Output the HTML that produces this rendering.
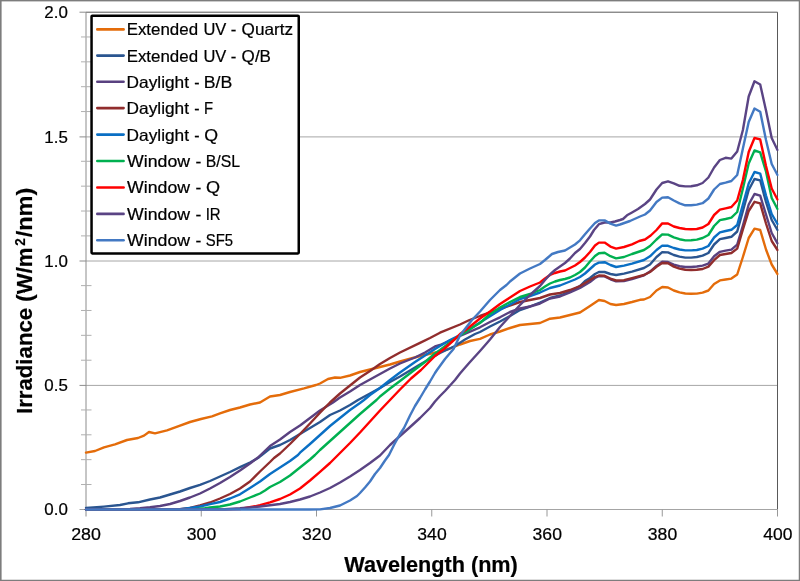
<!DOCTYPE html>
<html lang="en">
<head>
<meta charset="utf-8">
<title>Irradiance vs Wavelength</title>
<style>
html,body{margin:0;padding:0;background:#fff;}
body{width:800px;height:581px;overflow:hidden;}
svg{display:block;}
text{font-family:"Liberation Sans",Arial,sans-serif;fill:#000;stroke:#000;stroke-width:0.22;white-space:pre;}
.tick{font-size:16.6px;}
.leg{font-size:16.5px;}
.title{font-size:21.8px;font-weight:bold;stroke-width:0.2;}
.curve{fill:none;stroke-width:2.4;stroke-linejoin:round;stroke-linecap:round;}
</style>
</head>
<body>
<svg width="800" height="581" viewBox="0 0 800 581" role="img" aria-label="Irradiance versus wavelength for nine optical filter combinations">
<rect x="0" y="0" width="800" height="581" fill="#ffffff"/>
<g fill="#7d7d7d"><rect x="0" y="0" width="1.6" height="581"/><rect x="0" y="0" width="800" height="1.4"/><rect x="798.75" y="0" width="1.25" height="581"/><rect x="0" y="579.75" width="800" height="1.25"/></g>
<g stroke="#a6a6a6" stroke-width="1" fill="none">
<line x1="86.0" y1="385.4" x2="777.5" y2="385.4"/>
<line x1="86.0" y1="261.0" x2="777.5" y2="261.0"/>
<line x1="86.0" y1="136.9" x2="777.5" y2="136.9"/>
</g>
<path d="M86.0 12.2 H777.5 V509.5" fill="none" stroke="#595959" stroke-width="1"/>
<g stroke="#8c8c8c" stroke-width="1" fill="none">
<line x1="86.0" y1="12.2" x2="86.0" y2="516.5"/>
<line x1="79.5" y1="509.5" x2="777.5" y2="509.5" stroke="#a4a4a4"/>
<line x1="79.5" y1="12.2" x2="86.0" y2="12.2"/>
<line x1="79.5" y1="385.4" x2="86.0" y2="385.4"/>
<line x1="79.5" y1="261.0" x2="86.0" y2="261.0"/>
<line x1="79.5" y1="136.9" x2="86.0" y2="136.9"/>
<line x1="201.25" y1="509.5" x2="201.25" y2="516.5" stroke="#989898"/>
<line x1="316.50" y1="509.5" x2="316.50" y2="516.5" stroke="#989898"/>
<line x1="431.75" y1="509.5" x2="431.75" y2="516.5" stroke="#989898"/>
<line x1="547.00" y1="509.5" x2="547.00" y2="516.5" stroke="#989898"/>
<line x1="662.25" y1="509.5" x2="662.25" y2="516.5" stroke="#989898"/>
<line x1="777.50" y1="509.5" x2="777.50" y2="516.5" stroke="#989898"/>
</g>
<g stroke="#b0b0b0" stroke-width="1" fill="none">
<line x1="81.0" y1="484.53" x2="91.5" y2="484.53"/>
<line x1="81.0" y1="459.67" x2="91.5" y2="459.67"/>
<line x1="81.0" y1="434.80" x2="91.5" y2="434.80"/>
<line x1="81.0" y1="409.94" x2="91.5" y2="409.94"/>
<line x1="81.0" y1="360.21" x2="91.5" y2="360.21"/>
<line x1="81.0" y1="335.34" x2="91.5" y2="335.34"/>
<line x1="81.0" y1="310.48" x2="91.5" y2="310.48"/>
<line x1="81.0" y1="285.62" x2="91.5" y2="285.62"/>
<line x1="81.0" y1="235.88" x2="91.5" y2="235.88"/>
<line x1="81.0" y1="211.02" x2="91.5" y2="211.02"/>
<line x1="81.0" y1="186.16" x2="91.5" y2="186.16"/>
<line x1="81.0" y1="161.29" x2="91.5" y2="161.29"/>
<line x1="81.0" y1="111.56" x2="91.5" y2="111.56"/>
<line x1="81.0" y1="86.70" x2="91.5" y2="86.70"/>
<line x1="81.0" y1="61.83" x2="91.5" y2="61.83"/>
<line x1="81.0" y1="36.96" x2="91.5" y2="36.96"/>
</g>
<clipPath id="plotclip"><rect x="84.0" y="0" width="694.7" height="520"/></clipPath>
<g clip-path="url(#plotclip)">
<polyline class="curve" stroke="#E46C0A" points="86.0,452.6 95.0,451.0 104.0,447.3 115.0,444.4 127.0,440.0 138.0,438.0 144.0,435.6 149.0,432.0 155.0,433.4 167.0,430.4 178.0,426.4 190.0,422.0 201.0,419.0 212.0,416.4 220.0,413.4 230.0,410.0 240.0,407.5 250.0,404.5 260.0,402.5 270.0,396.5 280.0,395.0 290.0,392.0 304.0,388.4 316.0,385.0 320.0,383.5 328.0,379.0 335.0,377.5 340.0,377.8 350.0,375.5 360.0,372.0 370.0,369.5 380.0,367.0 390.0,364.5 400.0,361.5 420.0,356.0 440.0,351.5 450.0,348.5 460.0,344.5 470.0,341.0 480.0,338.8 490.0,334.5 500.0,331.5 510.0,328.0 520.0,325.0 530.0,324.0 540.0,323.0 550.0,318.7 560.0,317.5 570.0,315.0 580.0,312.5 590.0,306.0 598.9,300.0 604.6,301.0 610.4,304.0 616.1,305.0 624.0,304.0 632.0,302.0 640.0,299.8 644.0,299.5 650.0,297.0 656.5,290.5 662.2,287.0 668.0,287.5 673.8,290.5 679.5,292.4 685.3,293.5 691.1,293.8 696.8,293.6 702.6,292.6 708.4,290.5 714.1,284.0 719.9,280.4 725.6,279.5 731.4,278.6 737.2,274.5 742.9,257.0 748.7,238.0 754.5,228.7 760.2,230.0 766.0,249.5 771.7,264.5 777.5,274.0"/>
<polyline class="curve" stroke="#2A5590" points="86.0,508.0 104.0,506.6 120.0,505.0 128.0,503.3 138.0,502.3 150.0,499.5 160.0,497.5 170.0,494.5 180.0,491.5 190.0,488.0 200.0,484.8 210.0,481.0 220.0,476.5 230.0,472.0 240.0,467.2 250.0,462.5 258.0,458.0 270.0,448.5 280.0,445.0 290.0,440.0 300.0,434.0 310.0,428.0 320.0,422.0 330.0,415.0 340.0,410.5 350.0,405.0 358.0,400.0 370.0,393.5 380.0,388.0 390.0,382.0 400.0,376.5 420.0,364.5 440.0,353.0 455.0,346.0 465.0,339.5 475.0,334.0 480.0,332.0 490.0,326.5 500.0,321.5 510.0,316.0 520.0,310.0 530.0,306.5 540.0,302.5 550.0,298.0 560.0,295.5 570.0,291.5 580.0,286.0 585.0,281.0 590.0,278.0 595.0,274.0 598.9,272.0 604.6,272.0 610.4,274.0 616.1,275.0 624.0,273.6 632.0,271.6 644.0,268.0 650.0,264.5 656.5,257.0 662.2,252.2 668.0,252.4 673.8,255.0 679.5,256.6 685.3,257.6 691.1,257.6 696.8,257.0 702.6,255.6 708.4,253.0 714.1,244.5 719.9,239.2 725.6,238.0 731.4,236.8 737.2,231.5 742.9,211.0 748.7,190.0 754.5,179.0 760.2,180.3 766.0,202.0 771.7,220.0 777.5,230.0"/>
<polyline class="curve" stroke="#594180" points="86.0,509.3 130.0,509.0 140.0,508.3 150.0,507.3 160.0,506.0 170.0,504.0 180.0,501.0 190.0,497.5 200.0,493.5 210.0,488.5 220.0,483.0 230.0,477.0 240.0,470.5 250.0,463.5 258.0,457.5 270.0,446.0 280.0,439.5 290.0,432.0 300.0,425.5 310.0,418.0 320.0,410.5 333.0,402.5 340.0,397.5 350.0,391.5 360.0,385.0 370.0,379.5 380.0,374.0 390.0,368.5 400.0,363.5 415.0,357.5 425.0,352.5 435.0,346.5 440.0,345.0 460.0,336.0 480.0,327.3 490.0,322.0 500.0,317.3 510.0,312.0 520.0,308.5 530.0,306.5 540.0,303.5 550.0,298.5 560.0,296.5 570.0,292.5 580.0,288.0 590.0,282.0 595.0,278.0 598.9,276.2 604.6,276.4 610.4,279.3 616.1,281.3 624.0,281.0 632.0,279.2 644.0,275.3 650.0,271.6 656.5,266.0 662.2,261.8 668.0,262.0 673.8,264.6 679.5,266.2 685.3,267.0 691.1,267.0 696.8,266.5 702.6,265.6 708.4,263.6 714.1,256.2 719.9,251.8 725.6,250.6 731.4,249.6 737.2,244.6 742.9,225.5 748.7,204.5 754.5,194.0 760.2,195.6 766.0,214.5 771.7,233.0 777.5,243.3"/>
<polyline class="curve" stroke="#912D2D" points="86.0,509.4 180.0,509.2 190.0,508.0 200.0,505.5 210.0,502.5 220.0,498.5 230.0,494.0 240.0,488.5 250.0,481.5 260.0,471.5 270.0,462.0 274.0,458.0 280.0,453.5 290.0,444.0 300.0,434.0 310.0,423.5 320.0,412.7 330.0,402.5 340.0,393.5 350.0,385.5 360.0,377.5 370.0,371.0 380.0,364.0 390.0,358.0 400.0,352.5 420.0,342.8 430.0,338.0 440.0,332.7 460.0,324.5 469.5,320.0 480.0,316.0 500.0,309.0 520.0,302.0 530.0,300.0 540.0,298.0 550.0,294.5 560.0,293.0 570.0,290.0 580.0,286.0 585.0,283.0 590.0,280.0 595.0,277.0 598.9,275.5 604.6,275.8 610.4,278.6 616.1,280.5 624.0,280.2 632.0,278.2 644.0,275.0 650.0,272.0 656.5,266.8 662.2,263.0 668.0,263.3 673.8,266.6 679.5,268.6 685.3,269.8 691.1,270.0 696.8,269.8 702.6,269.0 708.4,266.6 714.1,260.2 719.9,255.0 725.6,254.0 731.4,253.0 737.2,248.6 742.9,229.5 748.7,211.0 754.5,201.8 760.2,203.4 766.0,223.5 771.7,241.0 777.5,250.0"/>
<polyline class="curve" stroke="#0A6FC4" points="86.0,509.4 180.0,509.3 190.0,508.0 200.0,506.5 210.0,504.2 220.0,502.0 230.0,498.5 240.0,494.3 250.0,488.0 260.0,481.5 270.0,474.0 280.0,467.5 290.0,461.0 298.0,455.0 300.0,452.7 310.0,444.0 320.0,435.0 330.0,426.0 340.0,418.0 350.0,410.0 360.0,403.0 364.0,400.0 370.0,395.0 380.0,388.0 390.0,380.0 400.0,372.5 405.0,369.0 415.0,362.0 425.0,355.5 435.0,349.0 440.0,346.0 450.0,340.0 460.0,335.0 480.0,322.5 500.0,310.0 520.0,299.0 530.0,296.0 540.0,292.5 550.0,288.0 560.0,285.5 565.0,283.5 570.0,281.5 575.0,279.5 580.0,277.0 585.0,273.5 590.0,269.0 595.0,264.5 598.9,262.6 604.6,262.2 610.4,265.0 616.1,267.0 624.0,265.6 632.0,263.6 644.0,260.0 650.0,256.3 656.5,250.0 662.2,245.6 668.0,245.8 673.8,248.0 679.5,249.5 685.3,250.4 691.1,250.4 696.8,250.0 702.6,248.6 708.4,246.0 714.1,237.5 719.9,232.3 725.6,231.0 731.4,229.8 737.2,225.0 742.9,204.5 748.7,183.5 754.5,172.0 760.2,173.6 766.0,195.5 771.7,214.0 777.5,224.0"/>
<polyline class="curve" stroke="#00B050" points="86.0,509.4 195.0,509.3 205.0,508.3 210.0,507.5 220.0,506.5 230.0,504.5 240.0,501.5 250.0,497.5 260.0,493.5 265.0,490.5 270.0,487.0 280.0,482.0 290.0,475.5 300.0,467.5 310.0,459.5 315.0,455.0 320.0,450.0 330.0,441.0 340.0,432.0 350.0,423.0 360.0,414.0 370.0,405.5 376.5,400.0 380.0,396.5 390.0,388.5 400.0,381.0 415.0,369.5 425.0,362.0 435.0,353.5 440.0,350.0 450.0,342.5 460.0,335.5 465.0,332.5 475.0,326.0 480.0,323.0 490.0,314.0 500.0,307.5 510.0,302.0 520.0,297.0 530.0,294.0 540.0,290.0 545.0,286.5 550.0,283.5 555.0,281.5 560.0,280.0 565.0,279.0 570.0,277.5 575.0,275.0 580.0,272.0 585.0,267.5 590.0,261.5 595.0,256.0 598.9,253.2 604.6,252.8 610.4,256.2 616.1,258.4 624.0,257.0 632.0,254.0 644.0,250.0 650.0,246.0 656.5,239.5 662.2,234.4 668.0,234.6 673.8,237.4 679.5,239.2 685.3,240.4 691.1,240.2 696.8,239.6 702.6,238.0 708.4,235.0 714.1,226.0 719.9,220.2 725.6,219.0 731.4,217.6 737.2,212.0 742.9,188.5 748.7,163.5 754.5,150.5 760.2,152.4 766.0,171.5 771.7,198.0 777.5,209.0"/>
<polyline class="curve" stroke="#FF0000" points="86.0,509.4 230.0,509.3 240.0,509.0 255.0,506.3 260.0,505.2 270.0,502.3 280.0,499.0 290.0,494.5 300.0,488.5 310.0,480.5 320.0,471.8 330.0,463.0 335.0,458.0 340.0,453.0 350.0,443.0 360.0,432.5 370.0,421.5 380.0,410.5 390.0,400.0 400.0,389.5 411.0,378.5 421.0,370.0 430.0,361.0 435.0,356.0 440.0,352.0 444.0,349.0 455.0,339.0 460.0,334.0 465.0,330.5 470.0,326.5 475.0,322.5 480.0,318.5 490.0,311.5 500.0,304.0 510.0,297.5 520.0,291.0 530.0,286.5 540.0,282.5 545.0,278.5 550.0,275.0 555.0,273.0 560.0,271.5 565.0,270.5 570.0,268.0 575.0,265.5 580.0,262.0 585.0,257.5 590.0,252.0 595.0,245.5 598.9,242.6 604.6,242.6 610.4,246.6 616.1,248.6 624.0,247.0 632.0,244.4 639.2,241.0 645.0,239.5 650.7,235.5 656.5,230.0 662.2,223.4 668.0,223.5 673.8,226.5 679.5,228.0 685.3,229.0 691.1,229.2 696.8,229.0 702.6,227.5 708.4,224.0 714.1,215.0 719.9,209.6 725.6,208.3 731.4,207.0 737.2,200.5 742.9,180.0 748.7,152.0 754.5,138.0 760.2,139.4 766.0,166.0 771.7,188.5 777.5,199.5"/>
<polyline class="curve" stroke="#5A4484" points="86.0,509.4 225.0,509.3 240.0,508.3 260.0,506.5 270.0,505.2 280.0,504.0 290.0,502.0 300.0,499.5 310.0,496.5 320.0,492.5 330.0,488.0 340.0,482.5 350.0,476.5 360.0,470.0 370.0,463.0 380.0,455.5 390.0,445.0 400.0,436.0 409.0,428.0 420.0,418.0 430.0,408.0 435.0,401.5 440.0,396.0 445.0,391.0 450.0,385.5 455.0,380.0 460.0,373.5 463.0,370.0 470.0,362.0 480.0,351.0 487.0,343.0 490.0,339.5 500.0,327.0 510.0,316.0 520.0,305.0 530.0,295.0 540.0,286.0 545.0,280.0 550.0,274.5 555.0,270.0 560.0,266.5 565.0,263.0 570.0,258.5 575.0,253.0 580.0,249.0 585.0,243.0 590.0,236.5 594.0,230.0 598.9,224.2 604.6,222.5 610.4,222.5 615.0,221.5 620.0,220.0 623.0,219.0 627.0,215.3 632.0,212.5 638.0,209.0 645.0,204.0 650.0,199.5 656.5,189.5 662.2,183.0 668.0,181.3 673.8,183.3 679.5,185.8 685.3,186.4 691.1,186.2 696.8,185.3 702.6,183.0 708.4,177.5 714.1,167.5 719.9,160.0 725.6,157.8 731.4,158.6 737.2,151.5 742.9,130.0 748.7,96.5 754.5,81.3 760.2,84.5 766.0,110.5 771.7,138.0 777.5,150.0"/>
<polyline class="curve" stroke="#4379C3" points="86.0,509.5 310.0,509.5 320.0,509.4 330.0,508.0 340.0,505.5 350.0,500.5 357.0,496.0 360.0,493.0 365.0,487.5 370.0,481.5 375.0,474.0 380.0,468.0 385.0,460.5 389.0,455.0 394.0,445.0 400.0,434.0 404.0,428.0 410.0,415.5 415.0,406.0 420.0,398.0 425.0,389.5 430.0,381.5 435.0,373.0 437.0,370.0 445.0,359.0 453.5,349.0 460.0,335.5 465.0,329.0 472.0,320.0 480.0,311.5 490.0,300.0 500.0,290.0 506.5,285.0 510.0,281.5 520.0,273.5 530.0,268.5 540.0,264.0 545.0,260.0 552.0,254.0 558.0,252.0 565.0,250.5 570.0,247.5 575.0,244.5 580.0,240.3 585.0,234.3 590.0,228.5 595.0,223.0 598.9,220.4 604.6,220.4 610.4,223.6 616.1,225.6 620.0,224.5 630.0,221.0 640.0,216.5 645.0,214.5 650.0,210.5 656.5,202.0 662.2,197.6 668.0,197.2 673.8,200.5 679.5,203.4 685.3,205.3 691.1,205.3 696.8,204.6 702.6,203.2 708.4,198.5 714.1,189.5 719.9,184.0 725.6,182.6 731.4,181.0 737.2,175.0 742.9,148.5 748.7,122.0 754.5,108.5 760.2,111.7 766.0,140.0 771.7,164.0 777.5,175.0"/>
</g>
<text class="tick" y="515.35"><tspan x="44.36" textLength="23.54" lengthAdjust="spacingAndGlyphs">0.0</tspan></text>
<text class="tick" y="391.25"><tspan x="44.36" textLength="23.54" lengthAdjust="spacingAndGlyphs">0.5</tspan></text>
<text class="tick" y="266.85"><tspan x="44.37" textLength="23.53" lengthAdjust="spacingAndGlyphs">1.0</tspan></text>
<text class="tick" y="142.75"><tspan x="44.37" textLength="23.53" lengthAdjust="spacingAndGlyphs">1.5</tspan></text>
<text class="tick" y="18.05"><tspan x="44.37" textLength="23.53" lengthAdjust="spacingAndGlyphs">2.0</tspan></text>
<text class="tick" y="539.8"><tspan x="71.22" textLength="29.71" lengthAdjust="spacingAndGlyphs">280</tspan></text>
<text class="tick" y="539.8"><tspan x="186.83" textLength="29.34" lengthAdjust="spacingAndGlyphs">300</tspan></text>
<text class="tick" y="539.8"><tspan x="302.08" textLength="29.34" lengthAdjust="spacingAndGlyphs">320</tspan></text>
<text class="tick" y="539.8"><tspan x="417.33" textLength="29.34" lengthAdjust="spacingAndGlyphs">340</tspan></text>
<text class="tick" y="539.8"><tspan x="532.58" textLength="29.34" lengthAdjust="spacingAndGlyphs">360</tspan></text>
<text class="tick" y="539.8"><tspan x="647.83" textLength="29.34" lengthAdjust="spacingAndGlyphs">380</tspan></text>
<text class="tick" y="539.8"><tspan x="763.26" textLength="29.16" lengthAdjust="spacingAndGlyphs">400</tspan></text>
<text class="title" y="572.0"><tspan x="344.31" textLength="173.51" lengthAdjust="spacingAndGlyphs">Wavelength (nm)</tspan></text>
<text class="title" transform="translate(32,413) rotate(-90)"><tspan x="-1.02" textLength="166.63" lengthAdjust="spacingAndGlyphs">Irradiance (W/m</tspan><tspan x="167.31" dy="-7" font-size="14px" textLength="7.47" lengthAdjust="spacingAndGlyphs">2</tspan><tspan x="175.71" textLength="49.59" lengthAdjust="spacingAndGlyphs" dy="7">/nm)</tspan></text>
<rect x="91.55" y="15.75" width="207.2" height="237.65" rx="0.8" fill="#ffffff" stroke="#000000" stroke-width="2.5"/>
<line x1="97.3" y1="29.40" x2="123.6" y2="29.40" stroke="#E46C0A" stroke-width="2.6" stroke-linecap="round"/>
<text class="leg" y="34.60"><tspan x="126.66" textLength="71.38" lengthAdjust="spacingAndGlyphs">Extended</tspan> <tspan x="203.46" textLength="22.88" lengthAdjust="spacingAndGlyphs">UV</tspan> <tspan x="230.74" textLength="5.57" lengthAdjust="spacingAndGlyphs">-</tspan> <tspan x="241.62" textLength="51.45" lengthAdjust="spacingAndGlyphs">Quartz</tspan></text>
<line x1="97.3" y1="55.60" x2="123.6" y2="55.60" stroke="#2A5590" stroke-width="2.6" stroke-linecap="round"/>
<text class="leg" y="61.60"><tspan x="126.66" textLength="71.38" lengthAdjust="spacingAndGlyphs">Extended</tspan> <tspan x="203.46" textLength="22.88" lengthAdjust="spacingAndGlyphs">UV</tspan> <tspan x="230.74" textLength="5.57" lengthAdjust="spacingAndGlyphs">-</tspan> <tspan x="241.63" textLength="29.36" lengthAdjust="spacingAndGlyphs">Q/B</tspan></text>
<line x1="97.3" y1="81.70" x2="123.6" y2="81.70" stroke="#594180" stroke-width="2.6" stroke-linecap="round"/>
<text class="leg" y="88.20"><tspan x="126.63" textLength="62.42" lengthAdjust="spacingAndGlyphs">Daylight</tspan> <tspan x="194.17" textLength="5.30" lengthAdjust="spacingAndGlyphs">-</tspan> <tspan x="203.79" textLength="28.53" lengthAdjust="spacingAndGlyphs">B/B</tspan></text>
<line x1="97.3" y1="108.10" x2="123.6" y2="108.10" stroke="#912D2D" stroke-width="2.6" stroke-linecap="round"/>
<text class="leg" y="114.30"><tspan x="126.63" textLength="62.42" lengthAdjust="spacingAndGlyphs">Daylight</tspan> <tspan x="194.17" textLength="5.30" lengthAdjust="spacingAndGlyphs">-</tspan> <tspan x="204.02" textLength="9.07" lengthAdjust="spacingAndGlyphs">F</tspan></text>
<line x1="97.3" y1="134.60" x2="123.6" y2="134.60" stroke="#0A6FC4" stroke-width="2.6" stroke-linecap="round"/>
<text class="leg" y="140.90"><tspan x="126.63" textLength="62.42" lengthAdjust="spacingAndGlyphs">Daylight</tspan> <tspan x="194.17" textLength="5.30" lengthAdjust="spacingAndGlyphs">-</tspan> <tspan x="204.30" textLength="13.84" lengthAdjust="spacingAndGlyphs">Q</tspan></text>
<line x1="97.3" y1="161.00" x2="123.6" y2="161.00" stroke="#00B050" stroke-width="2.6" stroke-linecap="round"/>
<text class="leg" y="166.80"><tspan x="127.11" textLength="62.94" lengthAdjust="spacingAndGlyphs">Window</tspan> <tspan x="195.51" textLength="5.83" lengthAdjust="spacingAndGlyphs">-</tspan> <tspan x="205.75" textLength="34.26" lengthAdjust="spacingAndGlyphs">B/SL</tspan></text>
<line x1="97.3" y1="187.50" x2="123.6" y2="187.50" stroke="#FF0000" stroke-width="2.6" stroke-linecap="round"/>
<text class="leg" y="193.40"><tspan x="127.11" textLength="62.94" lengthAdjust="spacingAndGlyphs">Window</tspan> <tspan x="195.51" textLength="5.83" lengthAdjust="spacingAndGlyphs">-</tspan> <tspan x="206.09" textLength="14.07" lengthAdjust="spacingAndGlyphs">Q</tspan></text>
<line x1="97.3" y1="213.90" x2="123.6" y2="213.90" stroke="#5A4484" stroke-width="2.6" stroke-linecap="round"/>
<text class="leg" y="219.70"><tspan x="127.11" textLength="62.94" lengthAdjust="spacingAndGlyphs">Window</tspan> <tspan x="195.51" textLength="5.83" lengthAdjust="spacingAndGlyphs">-</tspan> <tspan x="205.66" textLength="14.96" lengthAdjust="spacingAndGlyphs">IR</tspan></text>
<line x1="97.3" y1="240.30" x2="123.6" y2="240.30" stroke="#4379C3" stroke-width="2.6" stroke-linecap="round"/>
<text class="leg" y="246.30"><tspan x="127.11" textLength="62.94" lengthAdjust="spacingAndGlyphs">Window</tspan> <tspan x="195.51" textLength="5.83" lengthAdjust="spacingAndGlyphs">-</tspan> <tspan x="205.82" textLength="27.23" lengthAdjust="spacingAndGlyphs">SF5</tspan></text>
</svg>
</body>
</html>
